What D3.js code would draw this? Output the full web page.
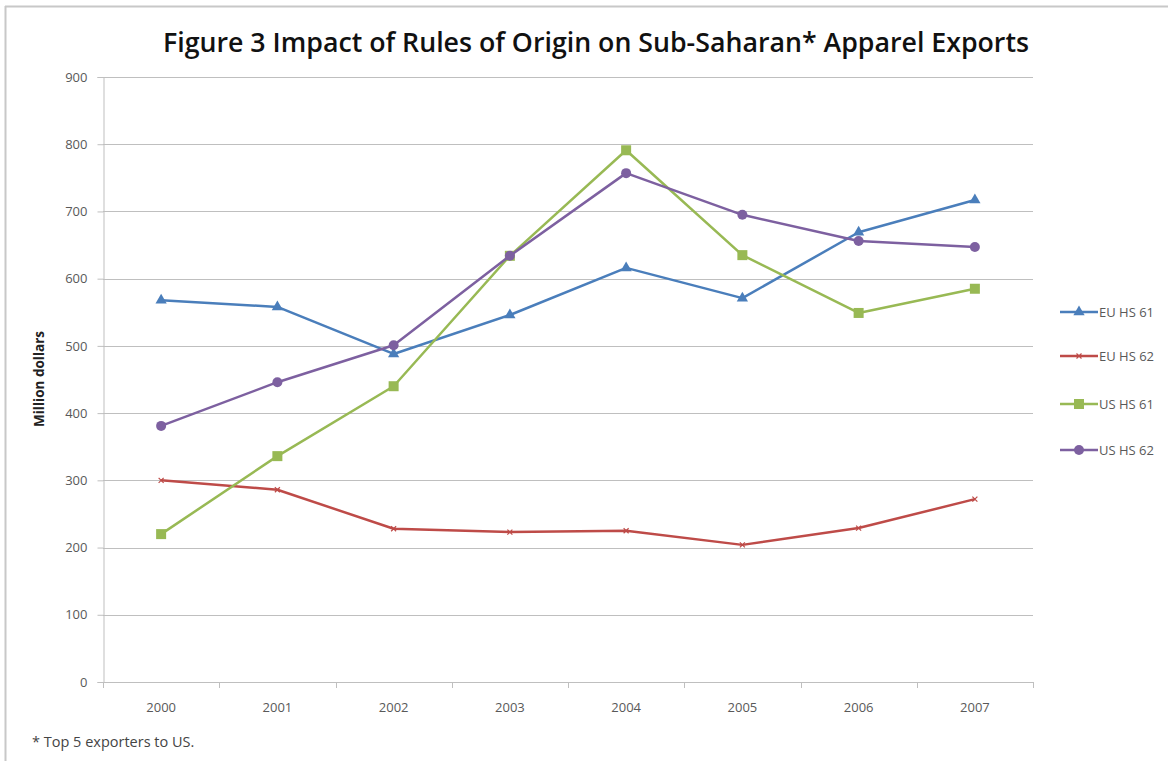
<!DOCTYPE html>
<html><head><meta charset="utf-8">
<script src="https://cdn.jsdelivr.net/npm/d3@7"></script>
<style>body{margin:0;background:#fff}svg{display:block}</style>
</head><body>
<script>
const years = ["2000","2001","2002","2003","2004","2005","2006","2007"];
const euHs61 = [568, 558, 488, 546, 616, 571, 669, 717];
const euHs62 = [300, 286, 228, 223, 225, 204, 229, 272];
const usHs61 = [220, 336, 440, 634, 791, 635, 549, 585];
const usHs62 = [381, 446, 501, 634, 757, 695, 656, 647];
const yTicks = [0,100,200,300,400,500,600,700,800,900];
const seriesNames = ["EU HS 61","EU HS 62","US HS 61","US HS 62"];
const title = "Figure 3 Impact of Rules of Origin on Sub-Saharan* Apparel Exports";

const series = [
  {name: seriesNames[0], values: euHs61, color: "#4a7ebb", marker: "triangle"},
  {name: seriesNames[1], values: euHs62, color: "#be4b48", marker: "x"},
  {name: seriesNames[2], values: usHs61, color: "#98b954", marker: "square"},
  {name: seriesNames[3], values: usHs62, color: "#7d60a0", marker: "circle"}
];

const W = 1168, H = 761;
const svg = d3.select("body").append("svg").attr("width", W).attr("height", H);
const font = "'Open Sans', 'Liberation Sans', sans-serif";

// chart border (top & left visible)
svg.append("line").attr("x1",5).attr("x2",W).attr("y1",6.5).attr("y2",6.5).attr("stroke","#c8c8c8").attr("stroke-width",2);
svg.append("line").attr("x1",5.5).attr("x2",5.5).attr("y1",6).attr("y2",H).attr("stroke","#c8c8c8").attr("stroke-width",2);

const pLeft = 103, pRight = 1033, pTop = 77, pBottom = 682;
const x = d3.scaleBand().domain(years).range([pLeft, pRight]);
const y = d3.scaleLinear().domain([0, 900]).range([pBottom, pTop]);

// gridlines
svg.append("g").selectAll("line").data(yTicks.filter(d => d > 0)).join("line")
  .attr("x1", pLeft).attr("x2", pRight)
  .attr("y1", d => Math.round(y(d)) + 0.5).attr("y2", d => Math.round(y(d)) + 0.5)
  .attr("stroke", "#bfbfbf").attr("stroke-width", 1);

// y axis
const yAxis = svg.append("g").attr("transform", `translate(${pLeft + 0.5},0)`)
  .call(d3.axisLeft(y).tickValues(yTicks).tickSize(6).tickPadding(10));
yAxis.select(".domain").attr("stroke", "#bfbfbf");
yAxis.selectAll(".tick line").attr("stroke", "#bfbfbf");
yAxis.selectAll(".tick text").attr("fill", "#595959").style("font-family", font).style("font-size", "13px");

// x axis
const xAxis = svg.append("g").attr("transform", `translate(0,${pBottom + 0.5})`)
  .call(d3.axisBottom(x).tickSize(0).tickPadding(20));
xAxis.select(".domain").remove();
svg.append("line").attr("x1", pLeft).attr("x2", pRight).attr("y1", pBottom + 0.5).attr("y2", pBottom + 0.5).attr("stroke", "#bfbfbf");
const bounds = years.map(yr => x(yr)).concat([x(years[years.length-1]) + x.bandwidth()]);
svg.append("g").selectAll("line").data(bounds).join("line")
  .attr("x1", d => Math.round(d) + 0.5).attr("x2", d => Math.round(d) + 0.5)
  .attr("y1", pBottom).attr("y2", pBottom + 6).attr("stroke", "#bfbfbf");
xAxis.selectAll(".tick text").attr("fill", "#595959").style("font-family", font).style("font-size", "13px");

// markers
function drawMarker(g, type, color, cx, cy) {
  if (type === "triangle") {
    g.append("path").attr("d", d3.symbol(d3.symbolTriangle, 55)()).attr("transform", `translate(${cx},${cy})`).attr("fill", color);
  } else if (type === "square") {
    g.append("rect").attr("x", cx - 5).attr("y", cy - 5).attr("width", 10).attr("height", 10).attr("fill", color);
  } else if (type === "circle") {
    g.append("circle").attr("cx", cx).attr("cy", cy).attr("r", 5).attr("fill", color);
  } else {
    g.append("path").attr("d", `M${cx-2.5},${cy-2.5}L${cx+2.5},${cy+2.5}M${cx-2.5},${cy+2.5}L${cx+2.5},${cy-2.5}`)
      .attr("stroke", color).attr("stroke-width", 1.2);
  }
}

const line = d3.line().x((d, i) => x(years[i]) + x.bandwidth() / 2).y(d => y(d));
series.forEach(s => {
  const g = svg.append("g");
  g.append("path").datum(s.values).attr("d", line).attr("fill", "none")
    .attr("stroke", s.color).attr("stroke-width", 2.5).attr("stroke-linejoin", "round");
  s.values.forEach((v, i) => drawMarker(g, s.marker, s.color, x(years[i]) + x.bandwidth() / 2, y(v)));
});

// legend
const legY = [312, 356, 404, 450];
series.forEach((s, i) => {
  const g = svg.append("g");
  g.append("line").attr("x1", 1060).attr("x2", 1098).attr("y1", legY[i]).attr("y2", legY[i])
    .attr("stroke", s.color).attr("stroke-width", 2.5);
  drawMarker(g, s.marker, s.color, 1079, legY[i]);
  g.append("text").attr("x", 1099).attr("y", legY[i] + 4.5).text(s.name)
    .attr("fill", "#595959").style("font-family", font).style("font-size", "13px");
});

// title
svg.append("text").attr("x", 596).attr("y", 52).attr("text-anchor", "middle")
  .attr("textLength", 866).attr("lengthAdjust", "spacingAndGlyphs")
  .style("font-family", font).style("font-weight", "600").style("font-size", "27px").attr("fill", "#111")
  .text(title);

// y label
svg.append("text").attr("transform", "translate(44,379) rotate(-90)").attr("text-anchor", "middle")
  .style("font-family", font).style("font-weight", "700").style("font-size", "13.5px").attr("fill", "#222")
  .text("Million dollars");

// footnote
svg.append("text").attr("x", 32).attr("y", 747)
  .style("font-family", font).style("font-size", "14.5px").attr("fill", "#444")
  .text("* Top 5 exporters to US.");
</script>
</body></html>
